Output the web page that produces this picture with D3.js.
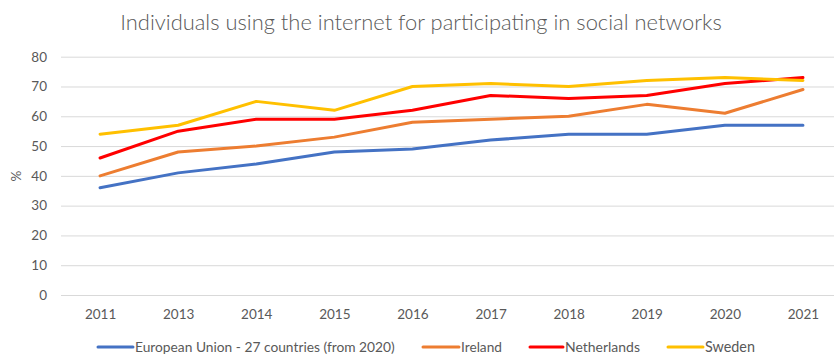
<!DOCTYPE html>
<html>
<head>
<meta charset="utf-8">
<script src="https://cdn.jsdelivr.net/npm/d3@7"></script>
<style>
  html, body { margin: 0; padding: 0; background: #fff; }
  svg { display: block; }
  text { font-family: Lato, "Open Sans", sans-serif; fill: #595959; }
</style>
</head>
<body>
<svg id="chart" width="834" height="354"></svg>
<script>
// Share of individuals using the internet for social networks (%)
const years = ["2011", "2013", "2014", "2015", "2016", "2017", "2018", "2019", "2020", "2021"];
const euValues = [36, 41, 44, 48, 49, 52, 54, 54, 57, 57];
const irelandValues = [40, 48, 50, 53, 58, 59, 60, 64, 61, 69];
const netherlandsValues = [46, 55, 59, 59, 62, 67, 66, 67, 71, 73];
const swedenValues = [54, 57, 65, 62, 70, 71, 70, 72, 73, 72];
const seriesNames = ["European Union - 27 countries (from 2020)", "Ireland", "Netherlands", "Sweden"];
const yTicks = [0, 10, 20, 30, 40, 50, 60, 70, 80];
const titleText = "Individuals using the internet for participating in social networks";

const series = [
  { name: seriesNames[0], values: euValues, color: "#4472C4" },
  { name: seriesNames[1], values: irelandValues, color: "#ED7D31" },
  { name: seriesNames[2], values: netherlandsValues, color: "#FF0000" },
  { name: seriesNames[3], values: swedenValues, color: "#FFC000" }
];

const svg = d3.select("#chart");
const plotLeft = 61, plotRight = 842, plotTop = 56.7, plotBottom = 295;

const x = d3.scalePoint().domain(years).range([plotLeft, plotRight]).padding(0.5);
const y = d3.scaleLinear().domain([0, 80]).range([plotBottom, plotTop]);

// fit text to a target width
function fitWidth(sel, target) {
  const w = sel.node().getComputedTextLength();
  const fs = parseFloat(sel.attr("font-size"));
  sel.attr("font-size", fs * target / w);
}

// title
const title = svg.append("text")
  .attr("x", 421).attr("y", 30)
  .attr("text-anchor", "middle")
  .attr("font-size", 20)
  .attr("font-weight", 300)
  .text(titleText);
fitWidth(title, 602);

// gridlines + y axis labels
const yAxis = d3.axisLeft(y).tickValues(yTicks).tickSize(-(plotRight - plotLeft)).tickPadding(14);
const gy = svg.append("g").attr("transform", `translate(${plotLeft},0)`).call(yAxis);
gy.select(".domain").remove();
gy.selectAll(".tick line").attr("stroke", "#d9d9d9").attr("stroke-width", 1);
gy.selectAll(".tick text").attr("font-size", 13.5).attr("fill", "#595959")
  .style("font-family", "Lato, 'Open Sans', sans-serif");

// x axis labels
const xAxis = d3.axisBottom(x).tickSize(0).tickPadding(14);
const gx = svg.append("g").attr("transform", `translate(0,${plotBottom})`).call(xAxis);
gx.select(".domain").remove();
gx.selectAll(".tick text").attr("font-size", 13.5).attr("fill", "#595959")
  .style("font-family", "Lato, 'Open Sans', sans-serif");

// y axis title
svg.append("text")
  .attr("transform", "translate(21,176) rotate(-90)")
  .attr("text-anchor", "middle")
  .attr("font-size", 13.5)
  .text("%");

// lines
const line = d3.line().x((d, i) => x(years[i])).y(d => y(d));
svg.append("g").selectAll("path").data(series).join("path")
  .attr("d", d => line(d.values))
  .attr("fill", "none")
  .attr("stroke", d => d.color)
  .attr("stroke-width", 3)
  .attr("stroke-linejoin", "round")
  .attr("stroke-linecap", "round");

// legend
const legendPos = [
  { x1: 98, x2: 133, tx: 135, w: 260 },
  { x1: 423, x2: 459, tx: 461, w: 41 },
  { x1: 530, x2: 563, tx: 565, w: 75 },
  { x1: 668, x2: 703, tx: 705, w: 50 }
];
const legendY = 347;
const lg = svg.append("g");
series.forEach((s, i) => {
  const p = legendPos[i];
  lg.append("line")
    .attr("x1", p.x1).attr("x2", p.x2)
    .attr("y1", legendY).attr("y2", legendY)
    .attr("stroke", s.color).attr("stroke-width", 3).attr("stroke-linecap", "round");
  const t = lg.append("text")
    .attr("x", p.tx).attr("y", legendY)
    .attr("dy", "0.35em")
    .attr("font-size", 13)
    .text(s.name);
  fitWidth(t, p.w);
});
</script>
</body>
</html>
